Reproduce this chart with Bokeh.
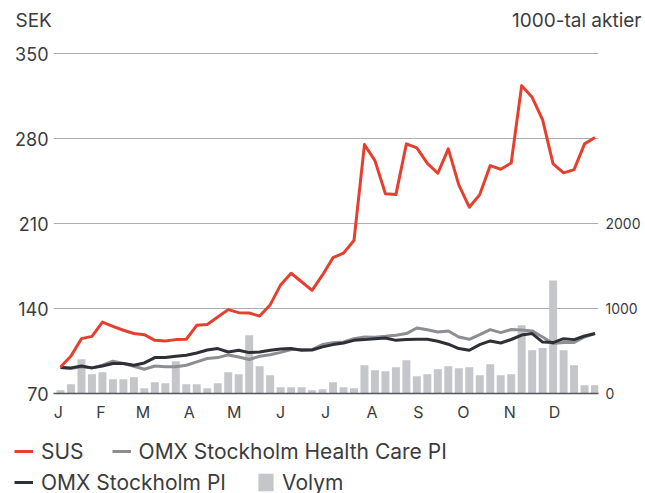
from datetime import date
from bokeh.plotting import figure
from bokeh.layouts import column
from bokeh.models import Range1d, LinearAxis, FixedTicker, Legend, LegendItem, Label
from bokeh.embed import file_html
from bokeh.resources import INLINE

# ---- data (weekly, first week ending 5 Jan) ----
weeks = list(range(52))
sus = [91.9, 100.9, 115.2, 117.1, 128.9, 125.4, 122.1, 119.4, 118.5, 113.8,
       113.3, 114.4, 114.7, 126.2, 126.8, 133.0, 139.1, 136.6, 136.3, 133.8,
       143.0, 159.5, 169.1, 162.1, 155.0, 167.7, 181.9, 185.7, 196.1, 275.1,
       261.9, 234.6, 233.9, 275.7, 272.4, 259.7, 251.5, 271.6, 241.9, 223.5,
       233.9, 257.8, 254.8, 260.0, 323.7, 314.1, 295.4, 259.2, 251.8, 254.5,
       275.7, 280.9]
omx_health_care = [91.4, 90.6, 92.0, 91.1, 93.3, 96.6, 94.7, 92.5, 90.0, 92.7,
                   92.0, 92.0, 93.3, 96.1, 98.8, 99.6, 101.8, 100.1, 98.0, 100.7,
                   101.9, 103.9, 106.3, 106.2, 106.2, 110.3, 111.9, 112.4, 115.2, 116.6,
                   116.4, 117.1, 118.0, 119.4, 124.0, 122.6, 120.7, 121.5, 116.6, 114.7,
                   118.5, 122.6, 120.2, 122.7, 122.3, 121.6, 116.6, 111.1, 112.0, 112.0,
                   116.6, 119.4]
omx_pi = [91.4, 91.1, 92.7, 91.1, 92.7, 94.7, 94.7, 93.3, 95.2, 99.6,
          99.6, 100.7, 101.5, 103.4, 105.9, 107.0, 104.2, 105.6, 103.7, 104.2,
          105.6, 106.7, 107.0, 105.6, 105.8, 108.4, 110.3, 111.6, 113.8, 114.4,
          115.2, 115.7, 113.8, 114.4, 114.7, 114.7, 113.0, 110.6, 107.0, 105.6,
          110.3, 113.3, 111.6, 114.5, 118.2, 119.4, 112.4, 112.0, 115.2, 114.4,
          117.4, 119.4]
volym = [39, 109, 403, 227, 250, 168, 168, 191, 62, 133,
         121, 379, 109, 109, 62, 121, 250, 227, 685, 320,
         215, 74, 74, 74, 39, 50, 133, 74, 62, 332,
         273, 262, 309, 391, 203, 227, 285, 320, 297, 309,
         215, 344, 215, 227, 802, 508, 535, 1330, 508, 332,
         97, 97]
month_labels = ["J", "F", "M", "A", "M", "J", "J", "A", "S", "O", "N", "D"]
sek_ticks = [70, 140, 210, 280, 350]
vol_ticks = [0, 1000, 2000]

first_week = date(2018, 1, 5)
month_ticks = [round(max(-0.2, (date(2018, m, 1) - first_week).days / 7), 3) for m in range(1, 13)]

FONT = "Inter"
TXT = "#3b3c40"
RED, GREY, DARK, BAR = "#e5402f", "#8c8e93", "#2e3037", "#c4c6ca"
W = 645


def no_align(f):
    if "frame_align" in f.properties():
        f.frame_align = False


def blank(h):
    # strip whose frame is the whole strip; its data range lies away from the series
    f = figure(frame_width=W, frame_height=h, output_backend="svg", toolbar_location=None,
               x_range=Range1d(1000, 1000 + W), y_range=Range1d(5000, 5000 + h),
               min_border_left=0, min_border_right=0, min_border_top=0, min_border_bottom=0)
    f.axis.visible = False
    f.grid.visible = False
    f.outline_line_color = None
    no_align(f)
    return f


# ---- header with unit texts ----
head = blank(40)
head.add_layout(Label(x=15, y=20, x_units="screen", y_units="screen", text="SEK",
                      text_font=FONT, text_font_size="19px", text_color=TXT,
                      text_baseline="middle", text_align="left"))
head.add_layout(Label(x=641, y=20, x_units="screen", y_units="screen", text="1000-tal aktier",
                      text_font=FONT, text_font_size="19px", text_color=TXT,
                      text_baseline="middle", text_align="right"))

# ---- main chart ----
p = figure(width=W, height=390, output_backend="svg", toolbar_location=None,
           x_range=Range1d(-0.67, 51.33), y_range=Range1d(70, 351),
           min_border_left=53, min_border_right=47, min_border_top=12, min_border_bottom=37)
p.outline_line_color = None
p.extra_y_ranges = {"vol": Range1d(0, 4000 * 281 / 280)}
no_align(p)

ya = p.yaxis[0]
ya.ticker = FixedTicker(ticks=sek_ticks)
ya.axis_line_color = None
ya.major_tick_line_color = None
ya.minor_tick_line_color = None
ya.major_tick_out = 0
ya.major_label_text_font = FONT
ya.major_label_text_font_size = "18px"
ya.major_label_text_color = TXT
ya.major_label_standoff = 5

xa = p.xaxis[0]
xa.ticker = FixedTicker(ticks=month_ticks)
xa.major_label_overrides = {t: l for t, l in zip(month_ticks, month_labels)}
xa.axis_line_color = "#54565b"
xa.axis_line_width = 1.5
xa.major_tick_line_color = None
xa.minor_tick_line_color = None
xa.major_tick_out = 0
xa.major_label_text_font = FONT
xa.major_label_text_font_size = "16px"
xa.major_label_text_color = TXT
xa.major_label_standoff = 8

ra = LinearAxis(y_range_name="vol", ticker=FixedTicker(ticks=vol_ticks))
ra.axis_line_color = None
ra.major_tick_line_color = None
ra.minor_tick_line_color = None
ra.major_tick_out = 0
ra.major_label_text_font = FONT
ra.major_label_text_font_size = "14px"
ra.major_label_text_color = TXT
ra.major_label_standoff = 7
p.add_layout(ra, "right")

p.xgrid.visible = False
p.ygrid.ticker = FixedTicker(ticks=sek_ticks)
p.ygrid.grid_line_color = "#acaeb3"
p.ygrid.grid_line_width = 1

p.vbar(x=weeks, top=volym, bottom=0, width=0.76, y_range_name="vol",
       fill_color=BAR, line_color=None)
p.line(weeks, omx_health_care, line_color=GREY, line_width=3, line_join="round")
p.line(weeks, omx_pi, line_color=DARK, line_width=3, line_join="round")
p.line(weeks, sus, line_color=RED, line_width=3, line_join="round")

# ---- legend strip (its copies of the series fall outside its own range) ----
leg = blank(63)
r_sus = leg.line(weeks, sus, line_color=RED, line_width=3)
r_hc = leg.line(weeks, omx_health_care, line_color=GREY, line_width=3)
r_pi = leg.line(weeks, omx_pi, line_color=DARK, line_width=3)
r_vol = leg.vbar(x=weeks, top=volym, bottom=0, width=0.76, fill_color=BAR, line_color=None)


def mk_legend(items, loc, gh=26, standoff=8):
    lg = Legend(items=items, location=loc, orientation="horizontal",
                padding=0, margin=0, spacing=28, label_standoff=standoff,
                glyph_width=19, glyph_height=gh, label_height=26,
                label_text_font=FONT, label_text_font_size="21px", label_text_color=TXT,
                background_fill_alpha=0, border_line_color=None)
    leg.add_layout(lg, "center")


mk_legend([LegendItem(label="SUS", renderers=[r_sus]),
           LegendItem(label="OMX Stockholm Health Care PI", renderers=[r_hc])], (14, 29))
mk_legend([LegendItem(label="OMX Stockholm PI", renderers=[r_pi])], (14, -2))
mk_legend([LegendItem(label="Volym", renderers=[r_vol])], (256, -2), gh=22, standoff=7)

layout = column(head, p, leg, spacing=0)
open("out.html", "w").write(file_html(layout, INLINE))
